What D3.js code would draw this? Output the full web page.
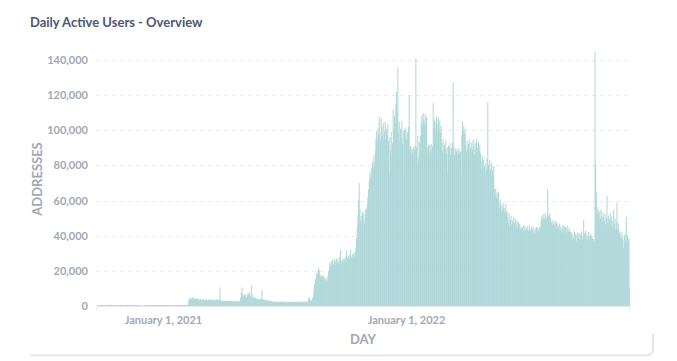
<!DOCTYPE html>
<html><head><meta charset="utf-8">
<script src="https://cdn.jsdelivr.net/npm/d3@7"></script>
<style>
body{margin:0;background:#fff;}
svg{display:block;font-family:Lato,"Noto Sans",sans-serif;}
</style>
</head><body>
<svg id="chart" width="677" height="361"></svg>
<script>
// ---- data ----
const title = "Daily Active Users - Overview";
const yAxisLabel = "ADDRESSES";
const xAxisLabel = "DAY";
const firstDay = [2020, 8, 24]; // Sep 24, 2020 (UTC, month 0-based)
const yTickValues = [0, 20000, 40000, 60000, 80000, 100000, 120000, 140000];
const xTickDates = [[2021, 0, 1], [2022, 0, 1]];
const xTickLabels = ["January 1, 2021", "January 1, 2022"];
// daily active addresses, in thousands, one value per day from firstDay
const dailyUsersK = [
// Sep 2020 - Feb 2021
0.5,0.4,0.6,0.5,0.5,0.4,0.6,0.7,0.5,0.4,
0.5,0.6,0.5,0.4,0.5,0.5,0.6,0.4,0.5,0.6,
0.7,0.5,0.4,0.5,0.6,0.5,0.5,0.4,0.6,0.5,
0.5,0.6,0.4,0.5,0.5,0.7,0.6,0.5,0.4,0.5,
0.6,0.5,0.5,0.4,0.6,0.5,0.7,0.6,0.5,0.5,
0.4,0.5,0.6,0.6,0.5,0.7,0.5,0.6,0.5,0.4,
0.5,0.6,0.5,0.5,0.4,0.5,0.3,0.2,0.1,0.1,
0.2,0.4,0.5,0.6,0.5,0.4,0.5,0.6,0.5,0.5,
0.6,0.4,0.5,0.5,0.6,0.5,0.4,0.5,0.6,0.5,
0.5,0.4,0.5,0.6,0.5,0.5,0.4,0.5,0.6,0.5,
0.5,0.5,0.4,0.6,0.5,0.5,0.4,0.5,0.5,0.6,
0.5,0.4,0.5,0.5,0.6,0.5,0.5,0.4,0.5,0.6,
0.5,0.5,0.6,0.5,0.4,0.5,0.5,0.6,0.5,0.5,
0.6,0.5,0.5,0.7,0.6,0.6,0.8,
// Feb - Mar 2021
3.2,4.1,3.6,4.8,3.9,4.4,5.0,4.2,3.7,4.6,
4.0,3.5,4.3,3.8,4.5,3.6,3.2,3.9,4.1,3.4,
3.7,3.3,4.0,3.5,3.1,3.8,3.4,3.6,3.0,3.5,
3.9,3.2,3.4,3.7,3.1,3.3,3.8,3.5,3.0,3.6,
3.2,3.4,3.9,3.1,3.5,3.3,3.0,
10.6,
3.4,3.0,2.8,3.1,2.7,2.9,2.6,3.0,2.8,2.5,
2.9,2.7,2.6,3.0,2.8,2.5,2.7,2.9,2.6,2.4,
2.8,2.6,2.5,2.9,2.7,2.4,2.6,2.8,2.5,3.2,
// May 2021
4.8,7.5,10.6,6.2,5.5,7.0,5.8,6.5,5.2,4.9,
6.8,5.6,7.2,8.0,6.1,5.4,11.8,6.6,5.0,4.6,
5.2,4.4,4.8,4.2,
3.8,4.3,3.6,4.0,3.5,4.1,3.7,3.9,
9.0,
3.8,3.5,3.7,3.3,3.6,3.2,3.4,3.0,3.3,2.9,3.1,2.8,3.0,2.7,2.9,
// Jun - Aug 2021
2.6,2.3,2.5,2.2,2.4,2.6,2.3,2.1,2.4,2.5,
2.2,2.3,2.6,2.4,2.1,2.3,2.5,2.2,2.4,2.3,
2.0,2.2,2.5,2.3,2.1,2.4,2.2,2.6,2.3,2.2,
2.4,2.1,2.3,2.5,2.2,2.0,2.3,2.4,2.2,2.5,
2.3,2.1,2.4,2.2,2.6,2.3,2.1,2.4,2.2,2.5,
2.3,2.2,2.6,2.4,
4.2,5.0,3.6,
2.8,3.0,3.4,4.5,6.0,9.5,
12.5,14.8,16.0,18.5,17.2,19.8,21.8,20.5,
17.6,16.4,18.0,15.8,16.9,17.5,15.2,16.3,14.6,16.1,14.2,15.0,17.3,19.5,
// Sep - Oct 2021
21.8,24.5,23.0,25.6,22.4,26.3,24.1,23.2,27.0,25.4,
22.9,26.8,24.6,27.5,23.8,25.2,28.4,32.0,26.1,24.3,
25.7,27.2,24.8,26.5,28.0,25.1,31.5,27.4,26.2,28.6,
27.0,29.3,32.2,28.1,26.7,29.5,27.8,30.4,28.9,31.0,
33.5,
38.7,45.0,52.0,60.5,70.0,55.0,48.5,51.2,46.3,53.8,49.0,52.5,47.1,54.6,50.2,55.3,58.0,
62.0,66.5,71.0,76.0,73.2,78.4,74.6,82.0,79.3,85.6,81.2,88.5,
// Nov - Dec 2021
95.0,99.2,93.5,101.4,97.3,107.7,98.5,94.2,107.0,102.3,
96.8,104.1,93.7,99.5,105.0,95.3,100.8,97.2,103.5,94.0,
75.5,96.0,88.3,99.0,84.2,92.6,
112.0,101.5,108.3,104.2,115.0,122.0,110.5,136.0,
98.2,104.8,93.5,101.0,95.7,105.3,92.4,99.6,74.5,
100.2,96.3,101.5,94.8,99.0,97.4,102.0,
120.0,
88.5,91.0,86.2,89.7,87.3,90.5,85.8,89.2,91.3,
// Jan 2022
141.0,
90.2,81.5,96.8,84.0,93.3,87.1,97.0,
105.2,108.7,103.4,110.0,106.1,104.0,109.3,102.5,107.6,
90.4,88.2,92.0,86.9,91.5,89.0,92.3,87.5,90.8,
115.5,
101.2,106.3,99.5,104.8,108.0,100.6,103.9,107.2,101.0,105.5,98.7,102.4,
93.1,88.4,95.0,86.7,91.8,89.5,94.2,87.0,90.3,
76.0,91.2,88.5,92.7,85.9,90.4,89.1,93.0,
127.0,
89.5,86.2,90.1,87.8,88.4,85.7,90.0,87.1,89.3,86.5,88.0,
75.0,
97.5,104.8,99.6,102.3,98.1,100.5,
// Apr - May 2022
91.2,88.0,94.3,89.7,92.5,86.8,95.0,90.3,87.6,93.1,
88.9,94.7,91.0,86.5,92.8,89.4,95.2,87.9,90.6,93.5,
88.2,91.7,86.9,
82.5,78.0,85.4,76.3,83.1,79.5,74.8,81.2,77.6,84.0,
116.0,
80.3,76.5,83.2,78.0,74.2,81.5,77.3,75.0,79.8,
66.5,63.2,67.0,61.8,64.5,62.0,65.3,
58.4,55.0,60.7,53.8,57.2,54.5,59.0,56.1,53.2,55.8,58.0,52.9,54.3,
// Jun - Aug 2022
50.5,47.2,52.8,45.6,49.0,51.3,46.4,48.7,44.9,50.2,
47.5,45.0,49.6,46.2,48.3,44.5,47.8,45.3,46.9,44.2,
45.2,43.0,44.8,42.5,46.0,43.7,45.5,42.2,44.3,43.1,
45.8,42.7,44.0,46.1,43.4,42.0,44.9,43.3,45.4,42.6,
41.5,44.2,43.0,45.0,42.3,44.6,42.8,43.9,45.3,44.1,
48.5,51.0,49.3,52.5,50.1,48.8,53.0,50.6,49.5,52.2,
66.6,51.4,49.9,52.8,50.3,48.2,
47.5,46.2,48.9,47.0,45.8,48.3,46.6,47.9,
// Aug - Oct 2022
46.5,44.0,45.8,42.6,46.9,43.5,45.2,41.8,44.7,46.1,
43.0,45.5,42.3,44.9,41.6,45.8,43.7,42.5,44.2,43.0,
42.1,39.5,41.8,37.6,40.7,38.4,42.5,39.0,41.2,36.8,
40.3,42.0,38.7,41.5,37.9,40.8,39.3,42.6,38.1,40.0,
49.0,41.6,39.2,43.0,37.4,40.5,38.8,42.2,36.5,39.7,
41.3,37.8,40.2,38.5,36.9,
38.0,36.5,
144.7,81.0,65.0,
// Oct - Dec 2022
56.5,52.0,54.8,50.3,53.6,49.5,55.2,51.0,47.8,53.4,50.6,
48.2,52.7,46.5,50.0,62.6,47.3,51.5,45.8,49.2,53.0,
46.0,50.8,44.7,48.5,54.6,46.8,49.9,43.5,47.6,58.8,
44.0,47.1,42.8,
41.5,39.0,42.3,38.2,40.6,37.5,33.0,39.8,41.0,36.7,50.8,38.5,40.2,37.0,38.6,
10.0
];

// ---- layout ----
const W = 677, H = 361;
const plot = {left: 97, right: 629.8, top: 60, bottom: 306};
const svg = d3.select("#chart");

const day0 = new Date(Date.UTC(...firstDay));
const rows = dailyUsersK.map((v, i) => ({date: d3.utcDay.offset(day0, i), value: v * 1000}));
const lastDay = d3.utcDay.offset(day0, rows.length);

const x = d3.scaleUtc().domain([day0, lastDay]).range([plot.left, plot.right]);
const y = d3.scaleLinear().domain([0, 140000]).range([plot.bottom, plot.top]);
const step = x(d3.utcDay.offset(day0, 1)) - x(day0);

// card shadow edge (bottom)
const card = svg.append("g");
card.append("path")
  .attr("d", `M30,355.5 H646 Q653,355.5 653,348.5 V334`)
  .attr("fill", "none").attr("stroke", "#e4e6ea").attr("stroke-width", 2);

// title
svg.append("text").attr("x", 30).attr("y", 27)
  .attr("font-size", 13).attr("font-weight", 700).attr("fill", "#4c5773")
  .text(title);

// gridlines
svg.append("g").selectAll("line").data(yTickValues.filter(d => d > 0)).join("line")
  .attr("x1", 96).attr("x2", 630)
  .attr("y1", d => Math.round(y(d)) + 0.5).attr("y2", d => Math.round(y(d)) + 0.5)
  .attr("stroke", "#e8eaee").attr("stroke-dasharray", "4,4");

// y axis labels
const yAxis = d3.axisLeft(y).tickValues(yTickValues).tickSize(0).tickPadding(0)
  .tickFormat(d3.format(","));
const gy = svg.append("g").attr("transform", "translate(88,0)").call(yAxis);
gy.select(".domain").remove();
gy.selectAll("text").attr("font-family", "Lato").attr("font-size", 11)
  .attr("font-weight", 700).attr("fill", "#a2a8b6");

// bars
svg.append("g").selectAll("rect").data(rows).join("rect")
  .attr("x", d => x(d.date))
  .attr("width", step + 0.35)
  .attr("y", d => y(d.value))
  .attr("height", d => y(0) - y(d.value))
  .attr("fill", "#afd7d8");

// x axis
const xAxis = d3.axisBottom(x)
  .tickValues(xTickDates.map(d => new Date(Date.UTC(...d))))
  .tickSize(0).tickPadding(0)
  .tickFormat((d, i) => xTickLabels[i]);
const gx = svg.append("g").attr("transform", `translate(0,${plot.bottom})`).call(xAxis);
gx.select(".domain").attr("d", `M96.5,4V0.5H629.5V4`).attr("stroke", "#e6e8ec").attr("fill", "none");
gx.selectAll("text").attr("dy", 0).attr("y", 18).attr("font-family", "Lato").attr("font-size", 11)
  .attr("font-weight", 700).attr("fill", "#a2a8b6");

// axis titles
svg.append("text").attr("x", 363).attr("y", 344).attr("text-anchor", "middle")
  .attr("font-size", 13).attr("font-weight", 700).attr("fill", "#a2a8b6").text(xAxisLabel);
svg.append("text").attr("transform", "translate(42,179) rotate(-90)").attr("text-anchor", "middle")
  .attr("font-size", 13).attr("font-weight", 700).attr("fill", "#a2a8b6").text(yAxisLabel);
</script>
</body></html>
